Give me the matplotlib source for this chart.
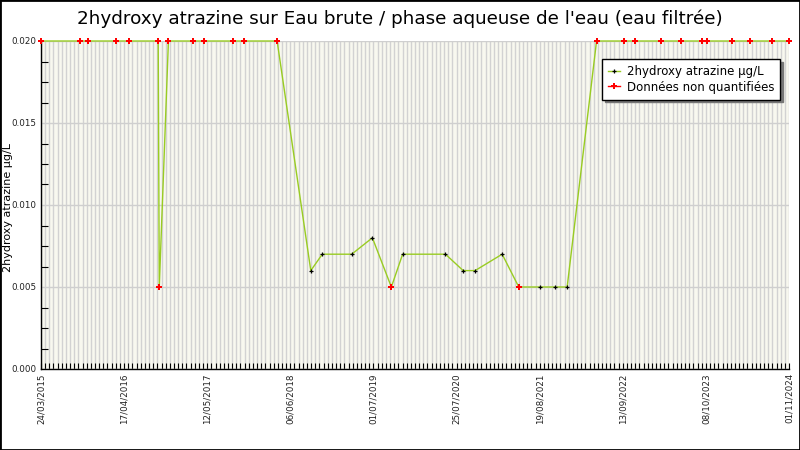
import matplotlib
matplotlib.use("Agg")
import matplotlib.pyplot as plt
import matplotlib.dates as mdates
from matplotlib.lines import Line2D
from matplotlib.patches import Rectangle
from matplotlib.ticker import FixedLocator, MultipleLocator, FormatStrFormatter
import numpy as np
from datetime import datetime, timedelta

title = "2hydroxy atrazine sur Eau brute / phase aqueuse de l'eau (eau filtrée)"
ylabel = "2hydroxy atrazine µg/L"
series_label = "2hydroxy atrazine µg/L"
nq_label = "Données non quantifiées"

dates = [
    "2015-03-24", "2015-09-24", "2015-11-01", "2016-03-11", "2016-05-11",
    "2016-09-24", "2016-09-29", "2016-11-11", "2017-03-08", "2017-04-28",
    "2017-09-09", "2017-11-02", "2018-04-05", "2018-09-10", "2018-11-03",
    "2019-03-21", "2019-06-26", "2019-09-23", "2019-11-15", "2020-06-03",
    "2020-08-25", "2020-10-20", "2021-02-24", "2021-05-13", "2021-08-21",
    "2021-10-30", "2021-12-26", "2022-05-13", "2022-09-19", "2022-11-10",
    "2023-03-12", "2023-06-15", "2023-09-20", "2023-10-11", "2024-02-09",
    "2024-05-02", "2024-08-15", "2024-11-01",
]
values = [
    0.020, 0.020, 0.020, 0.020, 0.020,
    0.020, 0.005, 0.020, 0.020, 0.020,
    0.020, 0.020, 0.020, 0.006, 0.007,
    0.007, 0.008, 0.005, 0.007, 0.007,
    0.006, 0.006, 0.007, 0.005, 0.005,
    0.005, 0.005, 0.020, 0.020, 0.020,
    0.020, 0.020, 0.020, 0.020, 0.020,
    0.020, 0.020, 0.020,
]
non_quantified = [
    1, 1, 1, 1, 1,
    1, 1, 1, 1, 1,
    1, 1, 1, 0, 0,
    0, 0, 1, 0, 0,
    0, 0, 0, 1, 0,
    0, 0, 1, 1, 1,
    1, 1, 1, 1, 1,
    1, 1, 1,
]
tick_start = "2015-03-24"
tick_step_days = 390
n_major = 9
minor_per_major = 20

x = [datetime.strptime(d, "%Y-%m-%d") for d in dates]
v = np.array(values)
nq = np.array(non_quantified, dtype=bool)
xn = mdates.date2num(x)

fig = plt.figure(figsize=(8, 4.5), dpi=100)
ax = fig.add_axes([41/800, 1-369/450, 748/800, 328/450])
ax.set_facecolor("#f8f8ef")

line_color = "#99cc22"
ax.plot(xn, v, color=line_color, lw=1.0, zorder=3, clip_on=False)
ax.plot(xn[~nq], v[~nq], ls="none", marker="+", ms=3.5, mew=0.9, color="black", zorder=4)
ax.plot(xn[nq], v[nq], ls="none", marker="P", ms=4.8, mew=0, color="red", zorder=5, clip_on=False)

t0 = datetime.strptime(tick_start, "%Y-%m-%d")
majors = [mdates.date2num(t0 + timedelta(days=tick_step_days * k)) for k in range(n_major + 1)]
minors = [mdates.date2num(t0) + tick_step_days / minor_per_major * k for k in range(n_major * minor_per_major + 1)]
ax.set_xlim(majors[0], majors[-1])
ax.set_ylim(0, 0.020)

ax.xaxis.set_major_locator(FixedLocator(majors))
ax.xaxis.set_minor_locator(FixedLocator(minors))
ax.set_xticklabels([(t0 + timedelta(days=tick_step_days * k)).strftime("%d/%m/%Y") for k in range(n_major + 1)],
                   rotation=90, fontsize=6.3, color="#222222")
ax.yaxis.set_major_locator(MultipleLocator(0.005))
ax.yaxis.set_minor_locator(MultipleLocator(0.00125))
ax.yaxis.set_major_formatter(FormatStrFormatter("%.3f"))
for lab in ax.get_yticklabels():
    lab.set_fontsize(6.3)
    lab.set_color("#222222")

ax.tick_params(axis="x", which="both", direction="in", length=4, width=0.8, pad=3)
ax.tick_params(axis="y", which="major", length=0, pad=3)
ax.tick_params(axis="y", which="minor", direction="in", length=5, width=0.8)

ax.grid(True, axis="x", which="both", color="#d2d2d2", lw=1.0, zorder=1)
ax.grid(True, axis="y", which="major", color="#cfcfcf", lw=1.0, zorder=1)
ax.set_axisbelow(True)

for s in ["top", "right"]:
    ax.spines[s].set_visible(False)
ax.spines["left"].set_linewidth(1.0)
ax.spines["bottom"].set_linewidth(1.0)

fig.text(8/800, 1 - 208/450, ylabel, rotation=90, ha="center", va="center", fontsize=8)
fig.text(0.5, 1 - 19/450, title, ha="center", va="center", fontsize=13.2)

handles = [
    Line2D([], [], color=line_color, lw=1, marker="+", ms=3.5, mew=0.9, mec="black"),
    Line2D([], [], color="red", lw=1, marker="P", ms=4.8, mew=0, mfc="red"),
]
leg = ax.legend(handles, [series_label, nq_label], loc="upper right",
                bbox_to_anchor=(0.988, 0.944), fontsize=8.5, frameon=True,
                fancybox=False, shadow={"color": "#777777", "alpha": 1.0},
                framealpha=1, edgecolor="black", handlelength=1.0,
                handletextpad=0.6, borderpad=0.5, labelspacing=0.2, borderaxespad=0)
leg.get_frame().set_linewidth(1.0)

fig.patches.append(Rectangle((0, 0), 1, 1, transform=fig.transFigure, fill=False,
                             edgecolor="black", lw=2, zorder=10))

fig.savefig("out.png", dpi=100)
